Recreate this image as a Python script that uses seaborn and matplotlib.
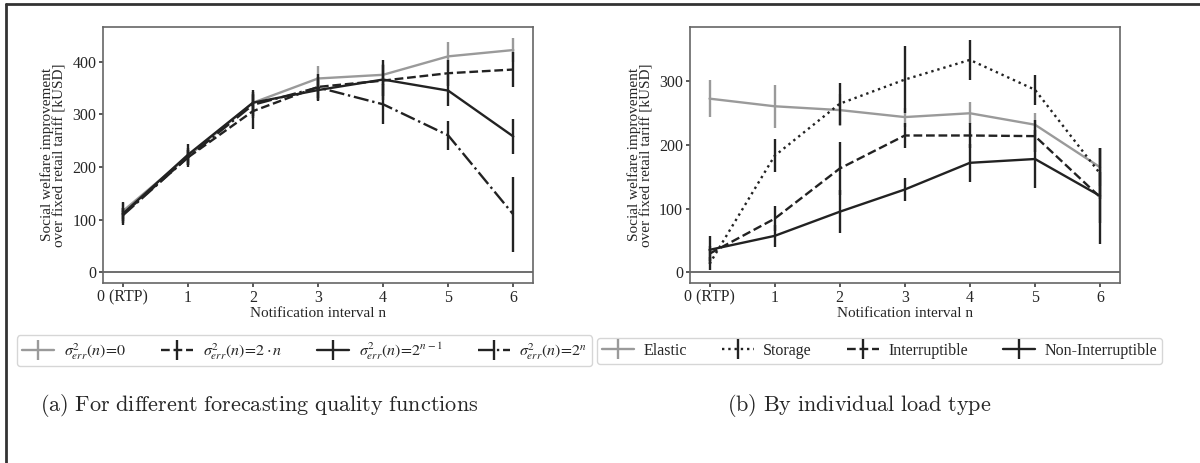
"""Social welfare improvement vs notification interval (two panels)."""

import matplotlib

matplotlib.use("Agg")
import matplotlib.pyplot as plt
import seaborn as sns
from matplotlib.lines import Line2D

sns.set_theme(style="ticks")
plt.rcParams["font.family"] = ["Liberation Serif", "DejaVu Serif"]
plt.rcParams["mathtext.fontset"] = "stix"

# --- data -------------------------------------------------------------
n_vals = [0, 1, 2, 3, 4, 5, 6]
x_labels = ["0 (RTP)", "1", "2", "3", "4", "5", "6"]

# (a) forecasting quality functions
a_labels = [
    r"$\sigma^2_{err}(n)\!=\!0$",
    r"$\sigma^2_{err}(n)\!=\!2\cdot n$",
    r"$\sigma^2_{err}(n)\!=\!2^{n-1}$",
    r"$\sigma^2_{err}(n)\!=\!2^{n}$",
]
a_zero = [116, 220, 322, 368, 375, 410, 422]
a_zero_err = [15, 12, 15, 23, 20, 28, 22]
a_lin = [110, 218, 306, 352, 364, 378, 385]
a_lin_err = [12, 15, 33, 25, 30, 25, 33]
a_half = [111, 223, 322, 346, 366, 345, 258]
a_half_err = [22, 20, 25, 20, 38, 30, 33]
a_exp = [108, 218, 318, 351, 319, 260, 110]
a_exp_err = [15, 18, 25, 20, 38, 28, 71]

# (b) load types
b_labels = ["Elastic", "Storage", "Interruptible", "Non-Interruptible"]
b_elastic = [273, 261, 255, 244, 250, 232, 165]
b_elastic_err = [29, 34, 25, 15, 17, 18, 30]
b_storage = [13, 183, 265, 303, 334, 287, 155]
b_storage_err = [10, 26, 33, 53, 31, 24, 40]
b_interr = [29, 84, 163, 215, 215, 214, 118]
b_interr_err = [12, 20, 41, 20, 20, 25, 40]
b_nonint = [35, 57, 95, 130, 172, 178, 120]
b_nonint_err = [22, 17, 34, 18, 30, 45, 75]

GRAY = "#9a9a9a"
DARK = "#222222"


def _panel(ax, series, labels, styles, colors, ylim, yticks):
    for (vals, err), lab, ls, col in zip(series, labels, styles, colors):
        sns.lineplot(x=n_vals, y=vals, ax=ax, color=col, linestyle=ls,
                     linewidth=1.7, legend=False)
        ax.errorbar(n_vals, vals, yerr=err, fmt="none", ecolor=col,
                    elinewidth=1.7, capsize=0)
    ax.axhline(0, color="#555555", linewidth=1.2, zorder=0)
    ax.set_xlim(-0.3, 6.3)
    ax.set_ylim(*ylim)
    ax.set_xticks(n_vals)
    ax.set_xticklabels(x_labels)
    ax.set_yticks(yticks)
    ax.tick_params(labelsize=11.5, length=3, color="#444444", pad=2)
    for sp in ax.spines.values():
        sp.set_color("#666666")
        sp.set_linewidth(1.2)
    ax.set_xlabel("Notification interval n", fontsize=11, labelpad=1)
    ax.set_ylabel("Social welfare improvement\nover fixed retail tariff [kUSD]",
                  fontsize=11, linespacing=0.95, labelpad=4)
    handles = [
        Line2D([], [], color=c, linestyle=ls, linewidth=1.7, marker="|",
               markersize=14, markeredgewidth=1.7)
        for ls, c in zip(styles, colors)
    ]
    return handles


fig = plt.figure(figsize=(12, 4.63), dpi=100)
ax_a = fig.add_axes([0.086, 0.389, 0.358, 0.553])
ax_b = fig.add_axes([0.575, 0.389, 0.358, 0.553])

styles_a = ["-", "--", "-", "-."]
colors = [GRAY, DARK, DARK, DARK]
h_a = _panel(
    ax_a,
    [(a_zero, a_zero_err), (a_lin, a_lin_err), (a_half, a_half_err),
     (a_exp, a_exp_err)],
    a_labels, styles_a, colors, (-20, 466), [0, 100, 200, 300, 400],
)
styles_b = ["-", ":", "--", "-"]
h_b = _panel(
    ax_b,
    [(b_elastic, b_elastic_err), (b_storage, b_storage_err),
     (b_interr, b_interr_err), (b_nonint, b_nonint_err)],
    b_labels, styles_b, colors, (-17, 386), [0, 100, 200, 300],
)

leg_kw = dict(ncol=4, fontsize=11.5, frameon=True, fancybox=True,
              edgecolor="#cccccc", handlelength=2.0, handletextpad=0.6,
              columnspacing=2.2, borderpad=0.3, loc="center")
fig.legend(h_a, a_labels, bbox_to_anchor=(0.254, 0.242), **leg_kw)
fig.legend(h_b, b_labels, bbox_to_anchor=(0.733, 0.242), **leg_kw)

cap_kw = dict(fontsize=16, math_fontfamily="cm", va="center", ha="left")
fig.text(0.033, 0.125,
         r"$\mathrm{(a)\ For\ different\ forecasting\ quality\ functions}$",
         **cap_kw)
fig.text(0.606, 0.125, r"$\mathrm{(b)\ By\ individual\ load\ type}$", **cap_kw)

# outer frame (top and left edges only)
fig.add_artist(Line2D([0.005, 1.0], [0.992, 0.992], color="#333333",
                      linewidth=2, transform=fig.transFigure))
fig.add_artist(Line2D([0.005, 0.005], [0.0, 0.992], color="#333333",
                      linewidth=2, transform=fig.transFigure))

fig.savefig("out.png", dpi=100)
